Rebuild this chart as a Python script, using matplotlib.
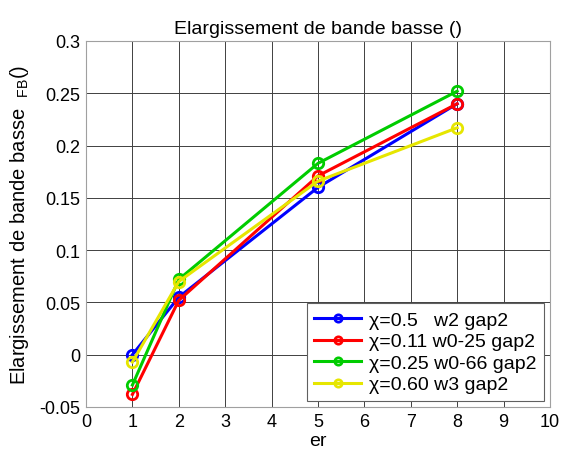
import numpy as np
import matplotlib
matplotlib.use("Agg")
import matplotlib.pyplot as plt

plt.rcParams['font.family'] = ['Liberation Sans', 'DejaVu Sans']
plt.rcParams['mathtext.default'] = 'regular'

er = [1, 2, 5, 8]
y_w2 = [0.000, 0.055, 0.160, 0.240]
y_w025 = [-0.038, 0.052, 0.171, 0.240]
y_w066 = [-0.029, 0.072, 0.183, 0.252]
y_w3 = [-0.007, 0.070, 0.166, 0.217]

labels = ['χ=0.5   w2 gap2', 'χ=0.11 w0-25 gap2', 'χ=0.25 w0-66 gap2', 'χ=0.60 w3 gap2']
colors = ['#0000ff', '#ff0000', '#00cc00', '#e6e600']

fig = plt.figure(figsize=(5.63, 4.56), dpi=100)
ax = fig.add_axes([0.1528, 0.1053, 0.824, 0.8026])

for ys, lab, c in zip([y_w2, y_w025, y_w066, y_w3], labels, colors):
    ax.plot(er, ys, color=c, lw=2.2, marker='o', markersize=7.5,
            markerfacecolor='none', markeredgewidth=2, label=lab)

ax.set_xlim(0, 10)
ax.set_ylim(-0.05, 0.3)
ax.set_xticks(np.arange(0, 11, 1))
ax.set_yticks([-0.05, 0, 0.05, 0.1, 0.15, 0.2, 0.25, 0.3])
ax.set_yticklabels(['-0.05', '0', '0.05', '0.1', '0.15', '0.2', '0.25', '0.3'])
ax.tick_params(labelsize=13, direction='in', length=0, pad=4)
ax.grid(True, color='#404040', lw=0.7)
for s in ax.spines.values():
    s.set_color('#a0a0a0')

ax.set_title('Elargissement de bande basse ()', fontsize=14)
ax.set_xlabel('er', fontsize=14, labelpad=2)
ax.set_ylabel('Elargissement de bande basse  $_{FB}$()', fontsize=14.5, labelpad=6)

leg = ax.legend(loc='lower right', fontsize=14, numpoints=1, handlelength=2.4,
                markerscale=0.7, fancybox=False, framealpha=1, edgecolor='#606060',
                borderaxespad=0.3, labelspacing=0.2, handletextpad=0.4, borderpad=0.4)
leg.get_frame().set_linewidth(0.8)

fig.savefig('out.png', dpi=100)
